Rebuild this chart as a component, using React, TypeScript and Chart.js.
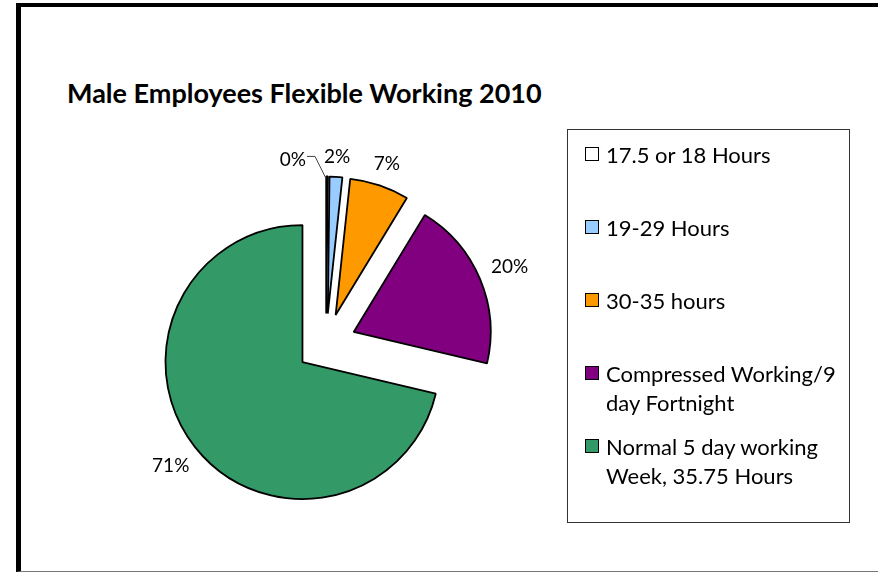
import React, { useEffect, useRef } from "react";
import { Chart, registerables } from "chart.js";

Chart.register(...registerables);

const chartTitle = "Male Employees Flexible Working 2010";
const categories = [
  "17.5 or 18 Hours",
  "19-29 Hours",
  "30-35 hours",
  "Compressed Working/9 day Fortnight",
  "Normal 5 day working Week, 35.75 Hours",
];
const values = [0.2, 1.5, 7.0, 20.0, 71.3];
const colors = ["#FFFFFF", "#99CCFF", "#FF9900", "#800080", "#339966"];

const EXPLODE = 30;
const LABEL_FONT = "19px Lato";

// Draws each arc element shifted outward along its bisector (exploded pie)
const explodedArcs = {
  id: "explodedArcs",
  beforeDatasetDraw(chart: any, args: any) {
    const ctx = chart.ctx;
    args.meta.data.forEach((arc: any) => {
      const mid = (arc.startAngle + arc.endAngle) / 2;
      ctx.save();
      ctx.translate(Math.cos(mid) * EXPLODE, Math.sin(mid) * EXPLODE);
      arc.draw(ctx);
      ctx.restore();
    });
    return false;
  },
};

const outsideLabels = {
  id: "outsideLabels",
  afterDatasetsDraw(chart: any) {
    const ctx = chart.ctx;
    const meta = chart.getDatasetMeta(0);
    const data = chart.data.datasets[0].data as number[];
    const total = data.reduce((a, b) => a + b, 0);
    ctx.save();
    ctx.font = LABEL_FONT;
    const h = 14;
    const boxes = meta.data.map((arc: any, i: number) => {
      const p = arc.getProps(["x", "y", "startAngle", "endAngle", "outerRadius"], true);
      const off = EXPLODE;
      const mid = (p.startAngle + p.endAngle) / 2;
      const text = Math.round((data[i] / total) * 100) + "%";
      const w = ctx.measureText(text).width;
      const c = Math.cos(mid);
      const s = Math.sin(mid);
      const d = off + p.outerRadius + 12 + Math.abs(c) * w / 2 + Math.abs(s) * h / 2;
      return {
        text,
        w,
        cx: p.x + c * d,
        cy: p.y + s * d,
        tipX: p.x + c * (off + p.outerRadius),
        tipY: p.y + s * (off + p.outerRadius),
        leader: false,
      };
    });
    for (let i = boxes.length - 2; i >= 0; i--) {
      const a = boxes[i];
      const b = boxes[i + 1];
      if (Math.abs(a.cx - b.cx) < (a.w + b.w) / 2 + 4 && Math.abs(a.cy - b.cy) < 18) {
        a.cx = b.cx - b.w / 2 - 18 - a.w / 2;
        a.cy = a.cy + 2;
        a.leader = true;
      }
    }
    ctx.fillStyle = "#000";
    ctx.textAlign = "center";
    ctx.textBaseline = "middle";
    boxes.forEach((bx: any) => {
      ctx.fillText(bx.text, bx.cx, bx.cy);
      if (bx.leader) {
        ctx.strokeStyle = "#404040";
        ctx.lineWidth = 1;
        ctx.beginPath();
        const sx = bx.cx + bx.w / 2 + 1;
        const sy = bx.cy - 3;
        ctx.moveTo(sx, sy);
        ctx.lineTo(sx + 8, sy);
        ctx.lineTo(bx.tipX - 1, bx.tipY + 2);
        ctx.stroke();
      }
    });
    ctx.restore();
  },
};

export default function App() {
  const ref = useRef<HTMLCanvasElement | null>(null);

  useEffect(() => {
    if (!ref.current) return;
    const chart = new Chart(ref.current, {
      type: "pie",
      data: {
        labels: categories,
        datasets: [
          {
            data: values,
            backgroundColor: colors,
            borderColor: "#000000",
            borderWidth: 1.8,
            offset: 0,
            hoverOffset: 0,
          } as any,
        ],
      },
      options: {
        responsive: false,
        animation: false,
        radius: 137,
        layout: { padding: { left: 0, right: 226, top: 115, bottom: 0 } },
        plugins: {
          legend: { display: false },
          title: { display: false },
          tooltip: { enabled: false },
        },
        events: [],
      } as any,
      plugins: [explodedArcs, outsideLabels],
    });
    return () => chart.destroy();
  }, []);

  return (
    <div
      style={{
        position: "fixed",
        left: 0,
        top: 0,
        width: 878,
        height: 572,
        overflow: "hidden",
        background: "#fff",
        fontFamily: "Lato, 'Open Sans', sans-serif",
      }}
    >
      <div
        style={{
          position: "absolute",
          left: 16,
          top: 3,
          width: 900,
          height: 569,
          boxSizing: "border-box",
          borderLeft: "5px solid #000",
          borderTop: "4px solid #000",
          borderBottom: "1px solid #777",
        }}
      />
      <div
        style={{
          position: "absolute",
          left: 67,
          top: 79,
          fontSize: 27,
          lineHeight: 1,
          fontWeight: 700,
          color: "#000",
          whiteSpace: "nowrap",
        }}
      >
        {chartTitle}
      </div>
      <canvas
        ref={ref}
        width={878}
        height={572}
        style={{ position: "absolute", left: 0, top: 0, width: 878, height: 572 }}
      />
      <div
        style={{
          position: "absolute",
          left: 567,
          top: 129,
          width: 283,
          height: 394,
          boxSizing: "border-box",
          border: "1px solid #333",
          paddingTop: 10,
          paddingLeft: 17,
        }}
      >
        {categories.map((c, i) => (
          <div key={c} style={{ height: 73, display: "flex", alignItems: "flex-start" }}>
            <div
              style={{
                width: 12,
                height: 12,
                border: "1px solid #000",
                background: colors[i],
                marginTop: 7,
                marginRight: 7,
                flex: "0 0 auto",
              }}
            />
            <div style={{ fontSize: 22, lineHeight: "29px", width: 245, color: "#000" }}>{c}</div>
          </div>
        ))}
      </div>
    </div>
  );
}
